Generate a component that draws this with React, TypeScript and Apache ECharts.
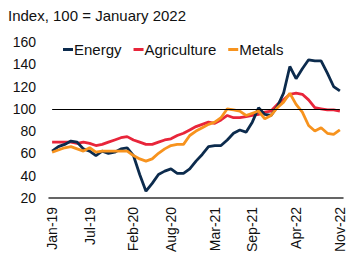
import React, { useEffect, useRef } from "react";
import * as echarts from "echarts";

const months = [
  "Jan-19","Feb-19","Mar-19","Apr-19","May-19","Jun-19","Jul-19","Aug-19","Sep-19","Oct-19","Nov-19","Dec-19",
  "Jan-20","Feb-20","Mar-20","Apr-20","May-20","Jun-20","Jul-20","Aug-20","Sep-20","Oct-20","Nov-20","Dec-20",
  "Jan-21","Feb-21","Mar-21","Apr-21","May-21","Jun-21","Jul-21","Aug-21","Sep-21","Oct-21","Nov-21","Dec-21",
  "Jan-22","Feb-22","Mar-22","Apr-22","May-22","Jun-22","Jul-22","Aug-22","Sep-22","Oct-22","Nov-22",
];

const shownLabels = ["Jan-19", "Jul-19", "Feb-20", "Aug-20", "Mar-21", "Sep-21", "Apr-22", "Nov-22"];

const energy = [
  62, 66, 68, 71, 70, 64, 62, 58, 62, 60, 61, 64,
  65, 58, 41, 26, 33, 41, 44, 46, 42, 42, 46, 53,
  59, 66, 67, 67, 72, 78, 81, 79, 88, 101, 95, 94,
  102, 114, 138, 127, 136, 144, 143, 143, 132, 120, 116,
];

const agriculture = [
  70, 70, 70, 70, 69, 70, 69, 67, 68, 70, 72, 74,
  75, 72, 70, 68, 68, 70, 72, 73, 76, 78, 81, 84,
  86, 88, 87, 90, 94, 92, 92, 93, 94, 95, 97, 98,
  104, 108, 113, 114, 113, 108, 101, 100, 99, 99, 98,
];

const metals = [
  61, 63, 65, 66, 64, 62, 65, 61, 62, 62, 62, 62,
  62, 58, 55, 53, 55, 60, 64, 67, 68, 68, 76, 80,
  83, 86, 88, 92, 100, 99, 98, 94, 96, 98, 91, 94,
  101, 106, 114, 104, 97, 85, 80, 83, 78, 77, 81,
];

const referenceLevel = 100;

export default function App() {
  const ref = useRef<HTMLDivElement>(null);
  useEffect(() => {
    if (!ref.current) return;
    const chart = echarts.init(ref.current, undefined, { renderer: "svg" });
    const font = "Liberation Sans, Arial, sans-serif";
    chart.setOption({
      animation: false,
      title: {
        text: "Index, 100 = January 2022",
        left: 3,
        top: 3,
        textStyle: { fontFamily: font, fontSize: 15, fontWeight: "normal", color: "#111" },
      },
      legend: {
        left: 58,
        top: 37,
        icon: "rect",
        itemWidth: 10,
        itemHeight: 3,
        itemGap: 12,
        textStyle: { fontFamily: font, fontSize: 15, color: "#111", padding: [0, 0, 0, -4] },
        data: ["Energy", "Agriculture", "Metals"],
      },
      grid: { left: 49, right: 4, top: 42, bottom: 55, containLabel: false },
      xAxis: {
        type: "category",
        data: months,
        boundaryGap: true,
        axisLine: { show: true, lineStyle: { color: "#333", width: 1.5 } },
        axisTick: { show: false },
        axisLabel: {
          rotate: 90,
          margin: 9,
          fontFamily: font,
          fontSize: 14,
          color: "#111",
          interval: (_i: number, v: string) => shownLabels.includes(v),
        },
        splitLine: { show: false },
      },
      yAxis: {
        type: "value",
        min: 20,
        max: 160,
        interval: 20,
        axisLine: { show: false },
        axisTick: { show: false },
        splitLine: { show: false },
        axisLabel: { fontFamily: font, fontSize: 14, color: "#111", margin: 13 },
      },
      series: [
        {
          name: "Energy",
          type: "line",
          data: energy,
          showSymbol: false,
          symbol: "none",
          lineStyle: { color: "#0c2b4d", width: 2.8 },
          itemStyle: { color: "#0c2b4d" },
          z: 3,
        },
        {
          name: "Agriculture",
          type: "line",
          data: agriculture,
          showSymbol: false,
          symbol: "none",
          lineStyle: { color: "#e8253a", width: 2.8 },
          itemStyle: { color: "#e8253a" },
          z: 2,
          markLine: {
            silent: true,
            symbol: "none",
            label: { show: false },
            lineStyle: { color: "#000", width: 1, type: "solid" },
            data: [[{ coord: [months[0], referenceLevel] }, { coord: [months[months.length - 1], referenceLevel] }]],
          },
        },
        {
          name: "Metals",
          type: "line",
          data: metals,
          showSymbol: false,
          symbol: "none",
          lineStyle: { color: "#f7931e", width: 2.8 },
          itemStyle: { color: "#f7931e" },
          z: 4,
        },
      ],
    });
    return () => chart.dispose();
  }, []);
  return <div ref={ref} style={{ width: 347, height: 255, position: "absolute", left: 0, top: 0 }} />;
}
